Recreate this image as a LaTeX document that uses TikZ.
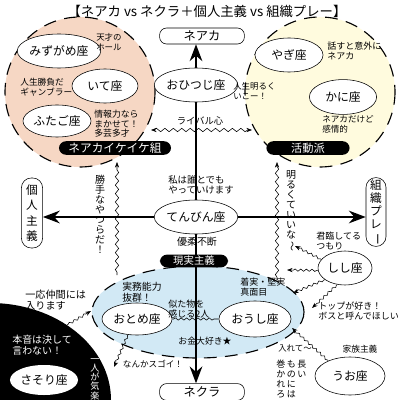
\documentclass[tikz,border=0pt]{standalone}
\usepackage{fontspec}
\setmainfont{Noto Sans CJK JP}
\usepackage{graphicx}
\usetikzlibrary{shapes.geometric,arrows.meta,decorations.pathmorphing}
\definecolor{peach}{RGB}{246,215,196}
\definecolor{cream}{RGB}{255,251,222}
\definecolor{pale}{RGB}{210,233,245}
\newcommand{\fsz}[2]{\fontsize{#1pt}{#2pt}\selectfont}
\newcommand{\tate}[1]{\rotatebox[origin=c]{-90}{#1}}

\begin{document}
\begin{tikzpicture}[x=0.025cm,y=-0.025cm,
  sign/.style={ellipse,draw,fill=white,inner sep=0pt,minimum width=1.8cm,minimum height=0.85cm,font=\fsz{8.4}{9}},
  pole/.style={draw,fill=white,rounded corners=5pt,inner sep=0pt,align=center,font=\fsz{8.7}{9}},
  tag/.style={fill=black,text=white,rounded corners=5pt,inner sep=0pt,minimum height=0.34cm,font=\fsz{8}{8}},
  note/.style={inner sep=0pt,align=left,font=\fsz{6.3}{7}},
  axis/.style={line width=1.3pt,-{Stealth[length=12pt,width=9pt]}},
  wave/.style={decorate,decoration={snake,amplitude=1.2pt,segment length=6pt,pre length=2pt,post length=3pt}},
  swave/.style={decorate,decoration={snake,amplitude=0.8pt,segment length=4pt,pre length=1pt,post length=3pt}},
  tip/.style={-{Stealth[length=4pt,width=3pt]}},
  zone/.style={dash pattern=on 9pt off 6pt,line width=0.8pt}]
  % 400x400 pixel grid, y grows downwards
  \useasboundingbox (0,0) rectangle (400,400);
  \fill[white] (0,0) rectangle (400,400);
  \draw[zone,fill=peach] (80,92) circle [radius=75];
  \draw[zone,fill=cream] (320,92) circle [radius=75];
  \draw[zone,fill=pale] (198,312) ellipse [x radius=106,y radius=46];
  \begin{scope}
    \clip (0,0) rectangle (400,400);
    \fill (-10,400) ellipse [x radius=121,y radius=97];
  \end{scope}
  \node[font=\fsz{9.5}{10}] (title) at (207,11) {【ネアカ vs ネクラ＋個人主義 vs 組織プレー】};

  \node[pole,minimum width=2.12cm,minimum height=0.4cm] (neaka) at (202,36) {ネアカ};
  \node[pole,minimum width=2.12cm,minimum height=0.42cm] (nekura) at (202,392) {ネクラ};
  \node[pole,rounded corners=7pt,minimum width=0.53cm,minimum height=1.75cm,font=\fsz{8.3}{11}] (kojin) at (32,213) {個\\人\\主\\義};
  \node[pole,rounded corners=7pt,minimum width=0.5cm,minimum height=1.72cm,font=\fsz{8.3}{9.3}] (soshiki) at (376,212) {組\\織\\プ\\レ\\\tate{ー}};
  \node[sign] (tenbin) at (196,217) {てんびん座};
  \draw[axis] (tenbin.north) -- (tenbin.north |- neaka.south);
  \draw[axis] (tenbin.south) -- (tenbin.south |- nekura.north);
  \draw[axis] (tenbin.west) -- (tenbin.west -| kojin.east);
  \draw[axis] (tenbin.east) -- (tenbin.east -| soshiki.west);

  \node[sign] (mizugame) at (59,51) {みずがめ座};
  \node[sign,minimum width=1.65cm] (ite) at (105,86) {いて座};
  \node[sign,minimum width=1.7cm,minimum height=0.8cm] (futago) at (57,121) {ふたご座};
  \node[sign] (ohitsuji) at (196,85) {おひつじ座};
  \node[sign,minimum width=1.7cm] (yagi) at (289,55) {やぎ座};
  \node[sign,minimum width=1.68cm,minimum height=0.87cm] (kani) at (343,97) {かに座};
  \node[sign,minimum width=1.75cm,minimum height=0.8cm] (otome) at (137,319) {おとめ座};
  \node[sign,minimum height=0.9cm] (oushi) at (255,319) {おうし座};
  \node[sign,minimum width=1.35cm] (shishi) at (345,268) {しし座};
  \node[sign,minimum width=1.75cm,minimum height=0.95cm] (uo) at (350,376) {うお座};
  \node[sign,draw=none,minimum width=1.7cm,minimum height=0.75cm] (sasori) at (44,380) {さそり座};

  \node[tag,minimum width=2.8cm,font=\fsz{8.3}{8.3}] (ikeike) at (115,148) {ネアカイケイケ組};
  \node[tag,minimum width=2.08cm] (katsudo) at (308,148) {活動派};
  \node[tag,minimum width=1.7cm,minimum height=0.32cm,font=\fsz{7.4}{7.4}] (genjitsu) at (194,261) {現実主義};

  \node[note,anchor=north west,font=\fsz{6}{7}] (genius) at (96,33) {天才の\\ホール};
  \node[note,anchor=north west,font=\fsz{6.2}{7}] (gamble) at (20,78) {人生勝負だ\\ギャンブラー};
  \node[note,anchor=north west,font=\fsz{6.3}{6.8}] (info) at (94,110) {情報力なら\\まかせて！\\多芸多才};
  \node[note,anchor=north west,font=\fsz{6}{7}] (bright) at (233,82) {人生明るく\\いこー！};
  \node[note,anchor=north west,font=\fsz{6.4}{7}] (talk) at (327,42) {話すと意外に\\ネアカ};
  \node[note,anchor=north west,font=\fsz{6.1}{7}] (emo) at (322,115) {ネアカだけど\\感情的};
  \node[note,anchor=north west,font=\fsz{6.7}{7.2}] (anyone) at (168,175) {私は誰とでも\\やっていけます};
  \node[note,font=\fsz{7.1}{7.5}] (indecisive) at (197,242) {優柔不断};
  \node[note,font=\fsz{6.6}{7}] (rival) at (200,121) {ライバル心};
  \node[note,align=center,font=\fsz{7.1}{7.1}] (selfish) at (100,214) {勝\\手\\な\\や\\つ\\ら\\だ\\！};
  \node[note,align=center,font=\fsz{7.1}{7.1}] (envy) at (291,211) {明\\る\\く\\て\\い\\い\\な\\\tate{〜}};
  \node[note,anchor=north west,font=\fsz{6.4}{7}] (reign) at (316,232) {君臨してる\\つもり};
  \node[note,anchor=north west,font=\fsz{6.4}{7}] (boss) at (318,302) {トップが好き！\\ボスと呼んでほしい};
  \node[note,font=\fsz{6.2}{7}] (family) at (360,349) {家族主義};
  \node[note,font=\fsz{6}{7}] (letmein) at (295,348) {入れて〜};
  \node[note,anchor=north west,font=\fsz{6.4}{6.6}] (proverb) at (276,360)
    {\begin{tabular}{@{}c@{\,}c@{\,}c@{}}巻&も&長\\か&の&い\\れ&に&\\ろ&は&\end{tabular}};
  \node[note,anchor=north west,font=\fsz{7}{7.6}] (skill) at (122,282) {実務能力\\抜群！};
  \node[note,anchor=north west,font=\fsz{6.4}{7}] (steady) at (240,278) {着実・堅実\\真面目};
  \node[note,anchor=north west,font=\fsz{6.4}{6.8}] (alike) at (168,300) {似た物を\\感じる2人};
  \node[note,font=\fsz{6.3}{7}] (money) at (205,341) {お金大好き★};
  \node[note,font=\fsz{6.1}{7}] (wow) at (153,364) {なんかスゴイ！};
  \node[note,anchor=north west,font=\fsz{7.2}{7.8}] (member) at (25,290) {一応仲間には\\入ります};
  \node[note,anchor=north west,text=white,font=\fsz{7.1}{7.8}] (honne) at (12,335) {本音は決して\\言わない！};
  \node[note,align=center,text=white,font=\fsz{6.5}{6.6}] (alone) at (95,379) {一\\人\\が\\気\\楽};

  % wavy links
  \coordinate (ikeE) at (151,130);
  \coordinate (katsuW) at (252,130);
  \coordinate (ikeS) at (117,162);
  \coordinate (genNW) at (117,275);
  \coordinate (katsuS) at (277,162);
  \coordinate (genNE) at (277,280);
  \coordinate (envyP) at (295,246);
  \coordinate (lineP) at (287,270);
  \coordinate (paleP) at (293,293);
  \coordinate (bossP) at (312,308);
  \coordinate (oushiP) at (292,328);
  \coordinate (sasoriP) at (114,367);
  \coordinate (sasoriE) at (67,325);
  \coordinate (paleW) at (91,311);
  \draw[wave,{Stealth[length=4pt,width=3pt]}-{Stealth[length=4pt,width=3pt]}] (ikeE) -- (katsuW);
  \draw[wave,tip] (genNW) -- (ikeS);
  \draw[wave,tip] (genNE) -- (katsuS);
  \draw[swave,tip] (shishi.160) -- (envyP);
  \draw[swave,tip] (shishi.185) -- (lineP);
  \draw[swave,tip] (shishi.210) -- (paleP);
  \draw[swave,tip] (shishi.245) -- (bossP);
  \draw[swave,tip] (uo.145) -- (oushiP);
  \draw[swave,tip] (otome.240) -- (sasoriP);
  \draw[swave,tip] (sasoriE) -- (paleW);
  \draw[swave] (otome.east) -- (oushi.west);
\end{tikzpicture}
\end{document}
